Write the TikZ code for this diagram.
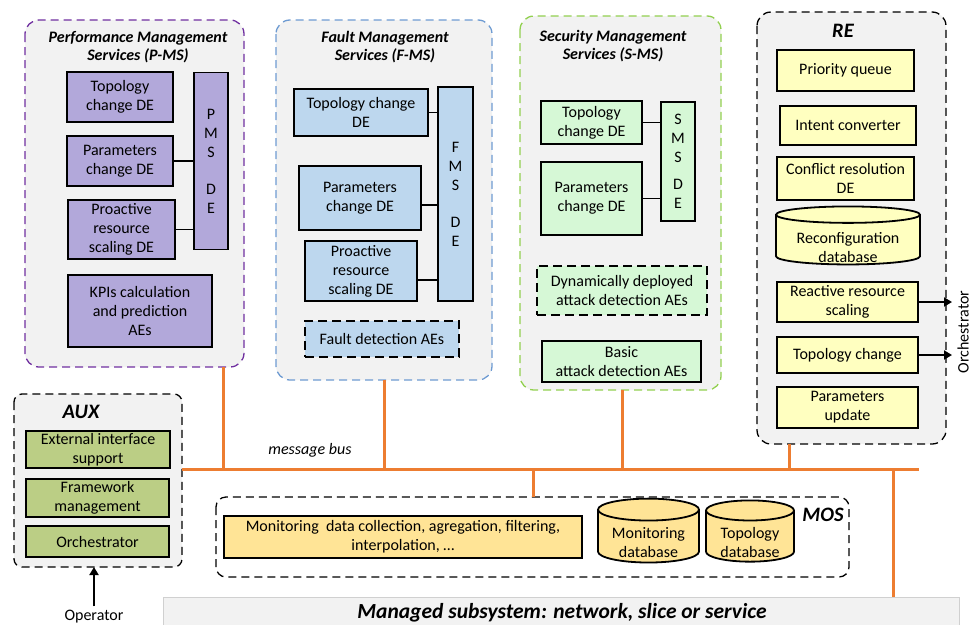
\documentclass[tikz,border=0pt]{standalone}
\usepackage{fontspec}
\setmainfont{Carlito}
\usetikzlibrary{shapes.geometric,arrows.meta,calc}

\definecolor{pmsfill}{RGB}{178,168,218}
\definecolor{pmsline}{RGB}{112,48,160}
\definecolor{fmsfill}{RGB}{189,215,238}
\definecolor{fmsline}{RGB}{110,155,210}
\definecolor{smsfill}{RGB}{214,248,214}
\definecolor{smsline}{RGB}{146,208,80}
\definecolor{refill}{RGB}{255,255,192}
\definecolor{auxfill}{RGB}{187,206,133}
\definecolor{mosfill}{RGB}{255,228,150}
\definecolor{panel}{RGB}{242,242,242}
\definecolor{panelline}{RGB}{208,208,208}
\definecolor{busorange}{RGB}{237,125,49}

\tikzset{
  txt/.style={font=\fontsize{16}{19}\selectfont, align=center},
  titletxt/.style={font=\fontsize{16}{18.5}\selectfont\bfseries\itshape, align=center},
  bigtitle/.style={font=\fontsize{20.5}{22}\selectfont\bfseries\itshape, align=center},
  group/.style={rounded corners=14, fill=panel, line width=1.3, dash pattern=on 8 off 5},
  blk/.style={txt, draw=black, line width=1.8, inner sep=0, rectangle},
  dashblk/.style={blk, dash pattern=on 9 off 5},
  db/.style={txt, draw=black, line width=1.8, shape=cylinder, shape border rotate=90,
    inner sep=0, fill=mosfill},
  link/.style={draw=black, line width=1.8},
  bus/.style={draw=busorange, line width=3},
  outarrow/.style={draw=black, line width=1.8, -{Triangle[length=8,width=9]}}
}

\begin{document}
\begin{tikzpicture}[x=1pt, y=-1pt]
\useasboundingbox (0,0) rectangle (973,624);

% ---------- service groups ----------
\path[group, draw=pmsline] (25,20) rectangle (244,367);
\coordinate (pmsbot) at (223,367);
\node[titletxt] at (138,47) {Performance Management\\Services (P-MS)};

\path[group, draw=fmsline] (276,20) rectangle (492,380);
\coordinate (fmsbot) at (384,380);
\node[titletxt] at (385,47) {Fault Management\\Services (F-MS)};

\path[group, draw=smsline] (520,16) rectangle (721,390);
\coordinate (smsbot) at (622,390);
\node[titletxt] at (613,46) {Security Management\\Services (S-MS)};

\path[group, draw=black] (757,12) rectangle (946,444);
\coordinate (rebot) at (789,444);
\node[bigtitle] at (843,31) {RE};

\path[group, draw=black, rounded corners=8] (14,394) rectangle (182,567);
\coordinate (auxbot) at (94,567);
\coordinate (auxright) at (182,469);
\node[bigtitle] at (81,412) {AUX};

\path[group, draw=black, fill=white, rounded corners=10] (216,497) rectangle (849,577);
\coordinate (mostop) at (533,497);
\node[bigtitle] at (823,515) {MOS};

% ---------- P-MS ----------
\node[blk, fill=pmsfill, minimum width=106, minimum height=50] (ptop) at (120,97) {Topology\\change DE};
\node[blk, fill=pmsfill, minimum width=106, minimum height=50] (ppar) at (120,161) {Parameters\\change DE};
\node[blk, fill=pmsfill, minimum width=107, minimum height=59] (ppro) at (121.5,229.5) {Proactive\\resource\\scaling DE};
\node[blk, fill=pmsfill, minimum width=34, minimum height=177] (pde) at (211,161) {P\\M\\S\\[18pt]D\\E};
\node[blk, fill=pmsfill, minimum width=144, minimum height=72] (pkpi) at (140,311) {KPIs calculation\\and prediction\\AEs};
\draw[link] (ppar.east) -- (ppar.east -| pde.west);
\draw[link] (ppro.east) -- (ppro.east -| pde.west);

% ---------- F-MS ----------
\node[blk, fill=fmsfill, minimum width=134, minimum height=47] (ftop) at (361,112.5) {Topology change\\DE};
\node[blk, fill=fmsfill, minimum width=122, minimum height=64] (fpar) at (360,198) {Parameters\\change DE};
\node[blk, fill=fmsfill, minimum width=112, minimum height=60] (fpro) at (361,271) {Proactive\\resource\\scaling DE};
\node[blk, fill=fmsfill, minimum width=35, minimum height=214] (fde) at (455.5,194) {F\\M\\S\\[18pt]D\\E};
\node[dashblk, fill=fmsfill, minimum width=154, minimum height=36] (ffault) at (382,339) {Fault detection AEs};
\draw[link] (ftop.east) -- (ftop.east -| fde.west);
\draw[link] ($(fpar.east)+(0,7)$) -- ($(fpar.east -| fde.west)+(0,7)$);
\draw[link] ($(fpro.east)+(0,9)$) -- ($(fpro.east -| fde.west)+(0,9)$);

% ---------- S-MS ----------
\node[blk, fill=smsfill, minimum width=101, minimum height=43] (stop) at (591.5,122.5) {Topology\\change DE};
\node[blk, fill=smsfill, minimum width=101, minimum height=73] (spar) at (591.5,198.5) {Parameters\\change DE};
\node[blk, fill=smsfill, minimum width=34, minimum height=119] (sde) at (678,161.5) {S\\M\\S\\[8pt]D\\E};
\node[dashblk, fill=smsfill, minimum width=170, minimum height=49] (sdyn) at (622,290.5) {Dynamically deployed\\attack detection AEs};
\node[blk, fill=smsfill, minimum width=159, minimum height=41] (sbasic) at (621.5,361.5) {Basic\\attack detection AEs};
\draw[link] (stop.east) -- (stop.east -| sde.west);
\draw[link] (spar.east) -- (spar.east -| sde.west);

% ---------- RE ----------
\node[blk, fill=refill, minimum width=137, minimum height=41] (rprio) at (845.5,70.5) {Priority queue};
\node[blk, fill=refill, minimum width=136, minimum height=39] (rintent) at (848,125.5) {Intent converter};
\node[blk, fill=refill, minimum width=137, minimum height=43] (rconf) at (845.5,178.5) {Conflict resolution\\DE};
\node[db, fill=refill, minimum width=144, minimum height=58, aspect=0.16] (rdb) at (848,240)
  {\phantom{Reconfiguration}\\\phantom{database}};
\node[txt] (rdbtxt) at ($(rdb.center)+(0,8)$) {Reconfiguration\\database};
\node[blk, fill=refill, minimum width=141, minimum height=40] (rreact) at (847.5,302) {Reactive resource\\scaling};
\node[blk, fill=refill, minimum width=141, minimum height=36] (rtopo) at (847.5,355) {Topology change};
\node[blk, fill=refill, minimum width=141, minimum height=41] (rparam) at (847.5,407.5) {Parameters\\update};
\coordinate (orchA) at (952,302);
\coordinate (orchB) at (952,355);
\draw[outarrow] (rreact.east) -- (orchA);
\draw[outarrow] (rtopo.east) -- (orchB);
\node[txt, rotate=90, inner sep=0] (orchtxt) at (963,332) {Orchestrator};

% ---------- AUX ----------
\node[blk, fill=auxfill, minimum width=144, minimum height=37] (aext) at (98,449.5) {External interface\\support};
\node[blk, fill=auxfill, minimum width=143, minimum height=38] (afw) at (97.5,498) {Framework\\management};
\node[blk, fill=auxfill, minimum width=143, minimum height=31] (aorch) at (97.5,541.5) {Orchestrator};
\node[txt, inner sep=0] (operator) at (94,617) {Operator};
\draw[outarrow] (operator.north) ++(0,-4) -- (auxbot);

% ---------- MOS ----------
\node[blk, fill=mosfill, minimum width=358, minimum height=42] (mdc) at (403,537) {Monitoring~ data collection, agregation, filtering,\\interpolation, \dots};
\node[db, minimum width=101, minimum height=59, aspect=0.3] (mdb) at (648.5,536.5)
  {\phantom{Monitoring}\\\phantom{database}};
\node[txt] (mdbtxt) at ($(mdb.center)+(0,6)$) {Monitoring\\database};
\node[db, minimum width=88, minimum height=59, aspect=0.34] (tdb) at (750,536.5)
  {\phantom{Topology}\\\phantom{database}};
\node[txt] (tdbtxt) at ($(tdb.center)+(0,6)$) {Topology\\database};

% ---------- managed subsystem ----------
\draw[fill=panel, draw=panelline, line width=1] (163,597) rectangle (959,630);
\coordinate (mgtop) at (893,597);
\node[font=\fontsize{21.5}{23}\selectfont\bfseries\itshape] at (562,613) {Managed subsystem: network, slice or service};

% ---------- message bus ----------
\coordinate (busR) at (919,469);
\draw[bus] (auxright) -- (busR);
\draw[bus] (pmsbot) -- (pmsbot |- busR);
\draw[bus] (fmsbot) -- (fmsbot |- busR);
\draw[bus] (smsbot) -- (smsbot |- busR);
\draw[bus] (rebot) -- (rebot |- busR);
\draw[bus] (mostop |- busR) -- (mostop);
\draw[bus] (mgtop |- busR) -- (mgtop);
\node[txt, font=\fontsize{16}{18}\selectfont\itshape] at (310,450) {message bus};

\end{tikzpicture}
\end{document}
